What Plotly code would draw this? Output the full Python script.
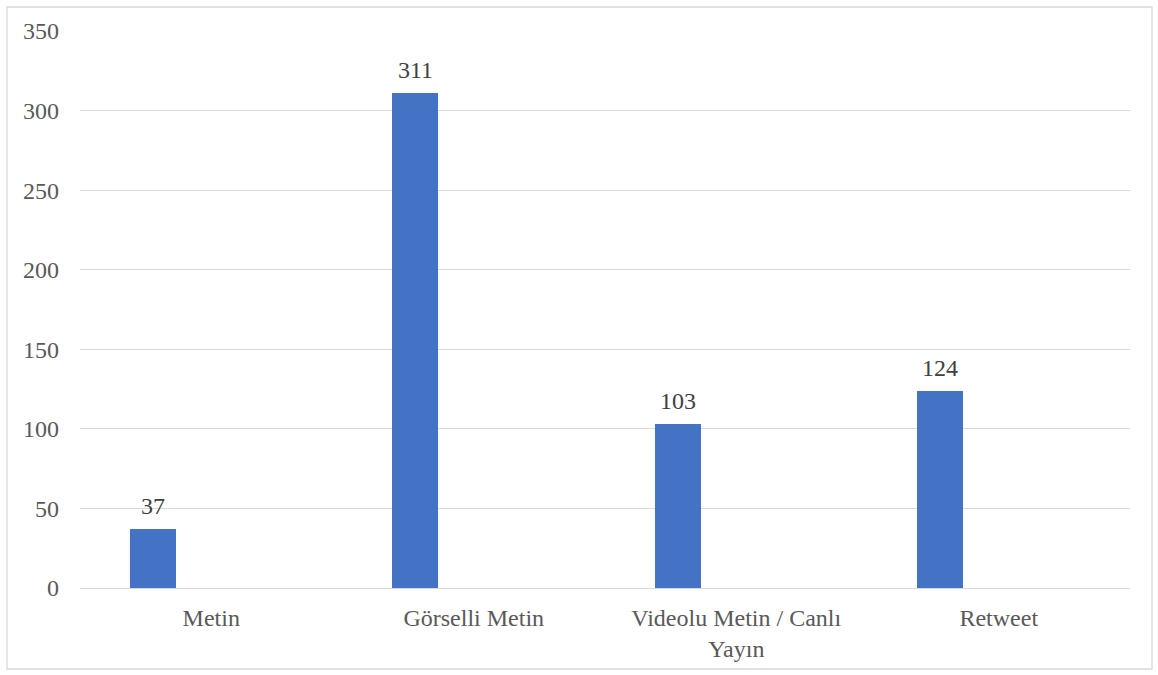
import plotly.graph_objects as go

categories = ["Metin", "Görselli Metin", "Videolu Metin / Canlı<br>Yayın", "Retweet"]
values = [37, 311, 103, 124]
y_ticks = [0, 50, 100, 150, 200, 250, 300, 350]

W, H = 1158, 675
L, R, T, B = 80, 28, 31, 87
pw, ph = W - L - R, H - T - B
BAR_W, BAR_OFF = 0.175, -0.31
FS = 24

fig = go.Figure()
fig.add_trace(go.Bar(
    x=list(range(len(categories))), y=values,
    width=BAR_W, offset=BAR_OFF,
    marker=dict(color="#4472C4", line=dict(width=0)),
    hoverinfo="x+y",
))

annotations = [
    dict(x=i + BAR_OFF + BAR_W / 2, y=v, xref="x", yref="y",
         text=str(v), showarrow=False, yanchor="bottom", yshift=8,
         font=dict(family="Liberation Serif", size=FS, color="#404040"))
    for i, v in enumerate(values)
]

fig.update_layout(
    width=W, height=H,
    margin=dict(l=L, r=R, t=T, b=B),
    paper_bgcolor="white", plot_bgcolor="white",
    showlegend=False,
    font=dict(family="Liberation Serif", size=FS, color="#595959"),
    xaxis=dict(
        tickmode="array", tickvals=list(range(len(categories))), ticktext=categories,
        range=[-0.5, len(categories) - 0.5],
        showgrid=False, zeroline=False, showline=False, ticks="",
        tickfont=dict(family="Liberation Serif", size=FS, color="#595959"),
        ticklabelstandoff=13,
    ),
    yaxis=dict(
        range=[0, 350], tickvals=y_ticks,
        showgrid=True, gridcolor="#d9d9d9", gridwidth=1.3,
        zeroline=True, zerolinecolor="#d9d9d9", zerolinewidth=1.3,
        showline=False, ticks="",
        tickfont=dict(family="Liberation Serif", size=FS, color="#595959"),
        ticklabelstandoff=20,
    ),
    annotations=annotations,
    shapes=[dict(
        type="rect", xref="paper", yref="paper",
        x0=(7 - L) / pw, x1=(1152 - L) / pw,
        y0=(H - B - 669) / ph, y1=(H - B - 7) / ph,
        line=dict(color="#d9d9d9", width=1.3), fillcolor="rgba(0,0,0,0)", layer="below",
    )],
    bargap=0,
)

fig.write_html("out.html", config={"displayModeBar": False},
               post_script="document.body.style.margin='0';document.body.style.overflow='hidden';")
